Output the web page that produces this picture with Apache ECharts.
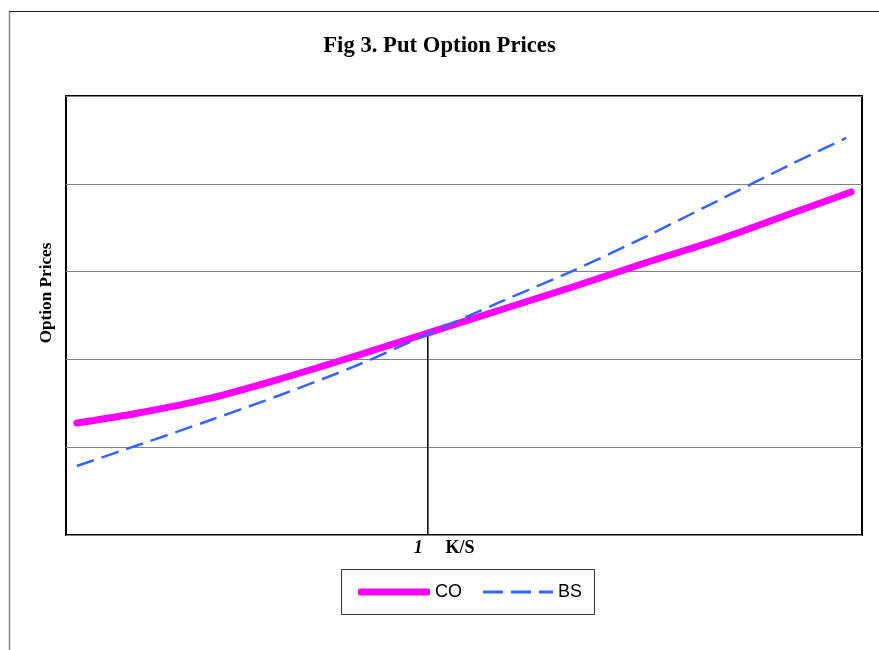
<!DOCTYPE html>
<html><head><meta charset="utf-8">
<script src="https://cdn.jsdelivr.net/npm/echarts@6/dist/echarts.min.js"></script>
<style>html,body{margin:0;padding:0;background:#fff}#c{width:879px;height:650px}</style>
</head><body><div id="c"></div>
<script>
const titleText = 'Fig 3. Put Option Prices';
const xName = 'K/S';
const yName = 'Option Prices';
const coX = [0.515, 0.6, 0.7, 0.8, 0.9, 1.0, 1.1, 1.2, 1.3, 1.4, 1.5, 1.585];
const coY = [1.276, 1.390, 1.560, 1.788, 2.039, 2.301, 2.563, 2.825, 3.098, 3.360, 3.656, 3.907];
const bsX = [0.515, 0.6, 0.7, 0.8, 0.9, 1.0, 1.1, 1.2, 1.3, 1.4, 1.5, 1.578];
const bsY = [0.786, 1.025, 1.310, 1.606, 1.925, 2.289, 2.654, 3.007, 3.394, 3.804, 4.214, 4.522];
const markX = [1.0, 1.0];
const markY = [0, 2.301];

const chart = echarts.init(document.getElementById('c'), null, {renderer: 'canvas'});
chart.setOption({
  animation: false,
  backgroundColor: '#fff',
  title: {
    text: titleText, left: 'center', top: 30,
    textStyle: {fontFamily: 'Liberation Serif', fontWeight: 'bold', fontSize: 22.7, color: '#000'}
  },
  graphic: [
    {type: 'line', shape: {x1: 9.5, y1: 11, x2: 9.5, y2: 660}, style: {stroke: '#888', lineWidth: 1.5}},
    {type: 'line', shape: {x1: 9, y1: 11.5, x2: 890, y2: 11.5}, style: {stroke: '#222', lineWidth: 1.2}},
    {type: 'rect', shape: {x: 341.5, y: 569.5, width: 253, height: 45}, style: {stroke: '#333', lineWidth: 1, fill: '#fff'}, z: -1},
    {type: 'text', x: 460, y: 548, style: {text: xName, fontFamily: 'Liberation Serif', fontWeight: 'bold', fontSize: 18, fill: '#000', align: 'center', verticalAlign: 'middle'}}
  ],
  grid: {left: 66, top: 96, right: 17, bottom: 115, show: true, borderColor: '#000', borderWidth: 2},
  xAxis: {
    type: 'value', min: 0.5, max: 1.6, interval: 0.5,
    axisLine: {show: false}, axisTick: {show: false}, splitLine: {show: false},
    axisLabel: {
      margin: 4, align: 'right', padding: [0, 5, 0, 0],
      fontFamily: 'Liberation Serif', fontStyle: 'italic', fontWeight: 'bold', fontSize: 18, color: '#000',
      formatter: v => (Math.abs(v - 1) < 1e-9 ? '1' : '')
    }
  },
  yAxis: {
    type: 'value', min: 0, max: 5, interval: 1,
    name: yName, nameLocation: 'middle', nameGap: 11, nameRotate: 90,
    nameTextStyle: {fontFamily: 'Liberation Serif', fontWeight: 'bold', fontSize: 17.2, color: '#000', padding: [0, 0, 0, 45]},
    axisLine: {show: false}, axisTick: {show: false}, axisLabel: {show: false},
    splitLine: {show: true, lineStyle: {color: '#808080', width: 1}}
  },
  legend: [
    {
      data: [{name: 'CO', icon: 'roundRect'}], left: 358, top: 583, padding: 0,
      itemWidth: 72, itemHeight: 7,
      textStyle: {fontFamily: 'Liberation Sans', fontSize: 18, color: '#000'}
    },
    {
      data: [{name: 'BS', icon: 'path://M0 0H20V3H0Z M28 0H48V3H28Z M56 0H70V3H56Z'}], left: 483, top: 583, padding: 0,
      itemWidth: 70, itemHeight: 3,
      textStyle: {fontFamily: 'Liberation Sans', fontSize: 18, color: '#000'}
    }
  ],
  series: [
    {
      name: 'CO', type: 'line', data: coX.map((x, i) => [x, coY[i]]),
      smooth: 0.3, symbol: 'none', z: 3,
      lineStyle: {color: '#FF00FF', width: 7, cap: 'round'}, itemStyle: {color: '#FF00FF'}
    },
    {
      name: 'BS', type: 'line', data: bsX.map((x, i) => [x, bsY[i]]),
      smooth: 0.3, symbol: 'none', z: 4,
      lineStyle: {color: '#3366FF', width: 2.5, type: [18, 8]}, itemStyle: {color: '#3366FF'}
    },
    {
      name: 'mark', type: 'line', data: markX.map((x, i) => [x, markY[i]]),
      symbol: 'none', z: 2, silent: true,
      lineStyle: {color: '#000', width: 1.5}
    }
  ]
});
</script></body></html>
